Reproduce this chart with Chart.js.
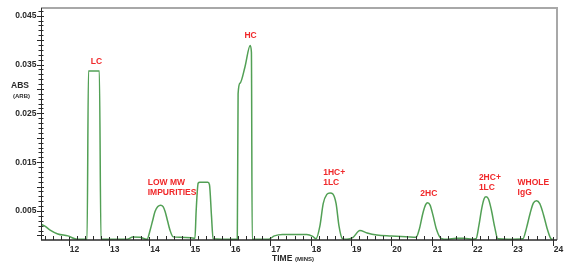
<!DOCTYPE html>
<html>
<head>
<meta charset="utf-8">
<script src="https://cdn.jsdelivr.net/npm/chart.js@4.4.1/dist/chart.umd.min.js"></script>
<style>
  body { margin: 0; background: #fff; }
  #wrap { width: 576px; height: 268px; }
</style>
</head>
<body>
<div id="wrap"><canvas id="grafico" width="576" height="268"></canvas></div>
<script>
// chromatogram trace (time in minutes, absorbance)
let tempos = [
  11.29, 11.41, 11.54, 11.73, 11.98, 12.21, 12.40, 12.455, 12.49, 12.76, 12.80, 12.95,
  13.45, 13.59, 13.77, 13.94, 14.02, 14.08, 14.14, 14.21, 14.28, 14.34, 14.39, 14.45,
  14.51, 14.59, 14.76, 15.03, 15.13, 15.16, 15.21, 15.25, 15.45, 15.49, 15.54, 15.58,
  15.80, 16.18, 16.20, 16.25, 16.37, 16.50, 16.53, 16.55, 16.95, 17.10, 17.30, 17.90,
  18.05, 18.13, 18.23, 18.31, 18.40, 18.48, 18.55, 18.63, 18.70, 18.78, 18.90, 19.05,
  19.22, 19.40, 19.64, 20.00, 20.40, 20.61, 20.70, 20.78, 20.85, 20.90, 20.96, 21.03,
  21.12, 21.23, 21.40, 21.60, 21.80, 22.00, 22.10, 22.17, 22.24, 22.30, 22.35, 22.41,
  22.48, 22.56, 22.64, 22.90, 23.26, 23.35, 23.44, 23.52, 23.60, 23.68, 23.77, 23.87,
  23.96, 24.00
];
let absorbancia = [
  0.0024, 0.0019, 0.0011, 0.0003, -0.0001, -0.0008, -0.0008, -0.0008, 0.0337, 0.0337, -0.0008, -0.0008,
  -0.0008, -0.0003, -0.0004, -0.0008, 0.0011, 0.0030, 0.0049, 0.0059, 0.0062, 0.0059, 0.0049, 0.0030,
  0.0011, -0.0003, -0.0004, -0.0005, -0.0006, 0.0050, 0.0107, 0.0109, 0.0109, 0.0104, 0.0040, -0.0007,
  -0.0008, -0.0008, 0.0290, 0.0312, 0.0345, 0.0389, 0.0375, -0.0008, -0.0008, -0.0001, 0.0002, 0.0002,
  -0.0002, -0.0007, 0.0020, 0.0065, 0.0084, 0.0087, 0.0085, 0.0065, 0.0020, -0.0006, -0.0008, -0.0004,
  0.0010, 0.0005, 0.0001, -0.0001, -0.0003, -0.0004, 0.0015, 0.0045, 0.0063, 0.0067, 0.0062, 0.0042,
  0.0012, -0.0006, -0.0008, -0.0006, -0.0006, -0.0008, -0.0007, 0.0020, 0.0055, 0.0075, 0.0079, 0.0074,
  0.0052, 0.0018, -0.0007, -0.0008, -0.0007, 0.0015, 0.0045, 0.0066, 0.0071, 0.0065, 0.0043, 0.0012,
  -0.0007, -0.0008
];

let rotulosX = ['12', '13', '14', '15', '16', '17', '18', '19', '20', '21', '22', '23', '24'];
let rotulosY = ['0.005', '0.015', '0.025', '0.035', '0.045'];

// peak names and where they sit (minutes, absorbance of first line)
let nomesPicos = [['LC'], ['HC'], ['LOW MW', 'IMPURITIES'], ['1HC+', '1LC'], ['2HC'], ['2HC+', '1LC'], ['WHOLE', 'IgG']];
let posPicos = [[12.69, 0.0355, 'center'], [16.51, 0.0410, 'center'], [13.96, 0.01088, 'left'],
                [18.31, 0.01293, 'left'], [20.93, 0.00848, 'center'], [22.17, 0.01182, 'left'], [23.13, 0.0108, 'left']];

const fonte = '"Liberation Sans", Arial, sans-serif';

let eixos = {
  id: 'eixos',
  beforeDatasetsDraw(chart) {
    let ctx = chart.ctx;
    let a = chart.chartArea;
    ctx.save();
    ctx.strokeStyle = '#a8a8a8';
    ctx.lineWidth = 2;
    ctx.beginPath();
    ctx.moveTo(a.left, a.top);
    ctx.lineTo(a.right, a.top);
    ctx.lineTo(a.right, a.bottom);
    ctx.stroke();
    ctx.restore();
  },
  afterDraw(chart) {
    let ctx = chart.ctx;
    let a = chart.chartArea;
    let x = chart.scales.x;
    let y = chart.scales.y;
    ctx.save();
    ctx.strokeStyle = '#2a2a2a';
    ctx.lineWidth = 1;
    ctx.beginPath();
    ctx.moveTo(a.left + 0.5, a.top);
    ctx.lineTo(a.left + 0.5, a.bottom);
    ctx.stroke();
    ctx.lineWidth = 1.5;
    ctx.beginPath();
    ctx.moveTo(a.left, a.bottom);
    ctx.lineTo(a.right, a.bottom);
    ctx.stroke();

    // y ticks every 0.001
    ctx.lineWidth = 1;
    for (let k = 0; k <= 46; k++) {
      let py = Math.round(y.getPixelForValue(k / 1000)) + 0.5;
      let longo = k % 5 === 0;
      ctx.beginPath();
      ctx.moveTo(a.left - (longo ? 4 : 2.5), py);
      ctx.lineTo(a.left + (longo ? 3 : 2.5), py);
      ctx.stroke();
    }
    // x ticks every 0.2 min
    for (let k = 57; k <= 120; k++) {
      let px = Math.round(x.getPixelForValue(k / 5)) + 0.5;
      ctx.beginPath();
      if (k % 5 === 0) {
        ctx.moveTo(px, a.bottom - 3);
        ctx.lineTo(px, a.bottom + 6);
      } else {
        ctx.moveTo(px, a.bottom - 4);
        ctx.lineTo(px, a.bottom);
      }
      ctx.stroke();
    }

    ctx.fillStyle = '#2a2a2a';
    ctx.font = 'bold 8.5px ' + fonte;
    ctx.textBaseline = 'middle';
    ctx.textAlign = 'right';
    rotulosY.forEach(r => {
      ctx.fillText(r, a.left - 4.5, y.getPixelForValue(parseFloat(r)));
    });
    ctx.textAlign = 'left';
    rotulosX.forEach(r => {
      ctx.fillText(r, x.getPixelForValue(parseFloat(r)) + 1, a.bottom + 10);
    });

    // axis titles
    ctx.textAlign = 'center';
    ctx.fillText('ABS', 20, 86);
    ctx.font = 'bold 6px ' + fonte;
    ctx.fillText('(ARB)', 21.5, 96);
    ctx.textAlign = 'left';
    ctx.font = 'bold 8.5px ' + fonte;
    ctx.fillText('TIME', 272, 258.5);
    ctx.font = 'bold 6px ' + fonte;
    ctx.fillText('(MINS)', 295, 259);

    // peak names
    ctx.fillStyle = '#f0282a';
    ctx.font = 'bold 8.5px ' + fonte;
    nomesPicos.forEach((linhas, i) => {
      let p = posPicos[i];
      ctx.textAlign = p[2];
      let px = x.getPixelForValue(p[0]);
      let py = y.getPixelForValue(p[1]);
      linhas.forEach((t, j) => ctx.fillText(t, px, py + j * 10));
    });
    ctx.restore();
  }
};

function renderizarGrafico() {
  let ctx = document.getElementById('grafico').getContext('2d');
  let pontos = tempos.map((t, i) => ({ x: t, y: absorbancia[i] }));
  new Chart(ctx, {
    type: 'line',
    data: {
      datasets: [{
        data: pontos,
        borderColor: '#52a055',
        borderWidth: 1.5,
        pointRadius: 0,
        fill: false,
        cubicInterpolationMode: 'monotone'
      }]
    },
    options: {
      responsive: false,
      animation: false,
      layout: { padding: { left: 41, right: 19, top: 8, bottom: 28 } },
      plugins: { legend: { display: false }, tooltip: { enabled: false } },
      scales: {
        x: { type: 'linear', min: 11.313, max: 24.107, display: false },
        y: { min: -0.00094, max: 0.04658, display: false }
      }
    },
    plugins: [eixos]
  });
}

renderizarGrafico();
</script>
</body>
</html>
